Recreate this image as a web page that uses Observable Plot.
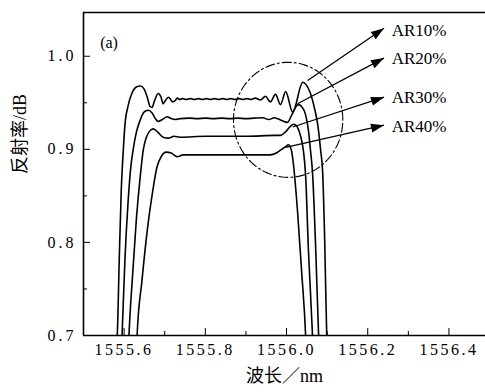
<!DOCTYPE html>
<html><head><meta charset="utf-8">
<script src="https://cdn.jsdelivr.net/npm/d3@7"></script>
<script src="https://cdn.jsdelivr.net/npm/@observablehq/plot@0.6"></script>
<style>
body{margin:0;background:#fff;}
#chart svg{display:block;}
#chart g[aria-label="x-axis tick label"] text{letter-spacing:2.5px;}
#chart g[aria-label="y-axis tick label"] text{letter-spacing:3px;}
</style></head><body><div id="chart"></div>
<script>
// axes
const xDomain = [1555.5, 1556.49];
const yDomain = [0.7, 1.047];
const xMajor = [1555.6, 1555.8, 1556.0, 1556.2, 1556.4];
const xMinor = [1555.7, 1555.9, 1556.1, 1556.3];
const yMajor = [0.7, 0.8, 0.9, 1.0];
const yMinor = [0.75, 0.85, 0.95];
const xLabel = "波长／nm";
const yLabel = "反射率/dB";
const panelLabel = "(a)";
const panelLabelPos = [1555.541, 1.014];

// series: [wavelength nm, reflectance]
const ar10 = [[1555.579,0.689],[1555.583,0.700],[1555.588,0.781],[1555.593,0.856],[1555.598,0.899],[1555.602,0.926],[1555.610,0.947],[1555.620,0.961],[1555.630,0.967],[1555.640,0.968],[1555.649,0.965],[1555.657,0.956],[1555.664,0.946],[1555.669,0.945],[1555.674,0.951],[1555.684,0.960],[1555.691,0.956],[1555.696,0.949],[1555.701,0.952],[1555.709,0.956],[1555.714,0.954],[1555.719,0.951],[1555.725,0.952],[1555.731,0.955],[1555.737,0.9535],[1555.743,0.9545],[1555.753,0.9535],[1555.763,0.9545],[1555.773,0.9535],[1555.783,0.9545],[1555.793,0.9535],[1555.803,0.9545],[1555.813,0.9535],[1555.823,0.9545],[1555.833,0.9535],[1555.843,0.9545],[1555.853,0.9535],[1555.863,0.9545],[1555.873,0.9535],[1555.883,0.9545],[1555.893,0.9535],[1555.903,0.9545],[1555.913,0.9535],[1555.923,0.955],[1555.936,0.953],[1555.948,0.957],[1555.960,0.951],[1555.973,0.959],[1555.985,0.948],[1555.998,0.962],[1556.015,0.940],[1556.040,0.972],[1556.049,0.969],[1556.059,0.960],[1556.069,0.944],[1556.077,0.926],[1556.084,0.899],[1556.089,0.875],[1556.094,0.802],[1556.099,0.700],[1556.100,0.689]];
const ar20 = [[1555.594,0.689],[1555.595,0.700],[1555.602,0.781],[1555.610,0.845],[1555.617,0.883],[1555.622,0.899],[1555.630,0.918],[1555.640,0.932],[1555.649,0.940],[1555.659,0.942],[1555.669,0.939],[1555.677,0.933],[1555.684,0.930],[1555.694,0.932],[1555.706,0.935],[1555.716,0.933],[1555.726,0.932],[1555.738,0.933],[1555.760,0.9335],[1555.780,0.933],[1555.800,0.9335],[1555.820,0.933],[1555.840,0.9335],[1555.860,0.933],[1555.880,0.9335],[1555.900,0.933],[1555.920,0.9335],[1555.941,0.934],[1555.956,0.932],[1555.970,0.934],[1555.988,0.931],[1556.002,0.929],[1556.015,0.939],[1556.025,0.947],[1556.030,0.948],[1556.037,0.946],[1556.047,0.937],[1556.054,0.920],[1556.059,0.899],[1556.064,0.875],[1556.072,0.791],[1556.079,0.700],[1556.080,0.689]];
const ar30 = [[1555.611,0.689],[1555.612,0.700],[1555.620,0.759],[1555.630,0.824],[1555.640,0.872],[1555.647,0.899],[1555.654,0.912],[1555.662,0.919],[1555.672,0.922],[1555.684,0.918],[1555.696,0.913],[1555.709,0.912],[1555.723,0.914],[1555.738,0.913],[1555.800,0.914],[1555.900,0.914],[1555.973,0.915],[1555.985,0.915],[1555.998,0.919],[1556.010,0.925],[1556.017,0.927],[1556.025,0.925],[1556.032,0.918],[1556.037,0.910],[1556.042,0.897],[1556.047,0.872],[1556.054,0.791],[1556.064,0.700],[1556.065,0.689]];
const ar40 = [[1555.631,0.689],[1555.632,0.700],[1555.644,0.759],[1555.657,0.813],[1555.669,0.851],[1555.681,0.881],[1555.691,0.892],[1555.704,0.897],[1555.716,0.896],[1555.731,0.892],[1555.746,0.894],[1555.763,0.894],[1555.850,0.894],[1555.960,0.894],[1555.975,0.896],[1555.988,0.900],[1555.998,0.903],[1556.005,0.905],[1556.012,0.899],[1556.017,0.884],[1556.027,0.834],[1556.037,0.770],[1556.047,0.700],[1556.048,0.689]];

// annotations
const seriesNames = ["AR10%", "AR20%", "AR30%", "AR40%"];
const arrowX1 = [1556.052, 1556.027, 1556.015, 1555.998];
const arrowY1 = [0.974, 0.949, 0.924, 0.902];
const arrowX2 = [1556.240, 1556.240, 1556.240, 1556.240];
const arrowY2 = [1.030, 0.998, 0.956, 0.926];
const labelX = 1556.259;
const labelY = [1.028, 0.997, 0.956, 0.924];
const ellipseCenter = [1556.004, 0.9317];
const ellipseRadii = [0.1346, 0.0618];

const serif = "'Liberation Serif', 'Noto Sans CJK SC', serif";
const series = [ar10, ar20, ar30, ar40];
const arrows = seriesNames.map((n, i) => ({x1: arrowX1[i], y1: arrowY1[i], x2: arrowX2[i], y2: arrowY2[i], label: n, ly: labelY[i]}));
const ellipse = d3.range(0, 361, 3).map(a => [
  ellipseCenter[0] + ellipseRadii[0] * Math.cos(a * Math.PI / 180),
  ellipseCenter[1] + ellipseRadii[1] * Math.sin(a * Math.PI / 180)
]);

function makePlot(extra) {
  return Plot.plot({
    width: 485, height: 392,
    marginLeft: 83, marginRight: 0, marginTop: 12, marginBottom: 57,
    x: {domain: xDomain},
    y: {domain: yDomain},
    style: {fontFamily: serif, fontSize: "16px", color: "black", background: "white"},
    marks: [
      ...series.map(s => Plot.line(s, {x: d => d[0], y: d => d[1], stroke: "black", strokeWidth: 1.6, curve: "monotone-x", clip: true})),
      Plot.line(ellipse, {x: d => d[0], y: d => d[1], stroke: "black", strokeWidth: 1.1, strokeDasharray: "9,3,2,3", curve: "linear"}),
      Plot.link(arrows, {x1: "x1", y1: "y1", x2: "x2", y2: "y2", stroke: "black", strokeWidth: 1.3}),
      ...extra,
      Plot.text(arrows, {x: () => labelX, y: "ly", text: "label", textAnchor: "start", fontSize: 17, fontFamily: serif, fill: "black"}),
      Plot.text([panelLabel], {x: () => panelLabelPos[0], y: () => panelLabelPos[1], text: d => d, textAnchor: "start", fontSize: 16, fontFamily: serif, fill: "black"}),
      Plot.axisX({ticks: xMajor, tickSize: -7, tickPadding: 15, tickFormat: d => d.toFixed(1), label: null, fontSize: 16, fontFamily: serif}),
      Plot.axisX({ticks: xMinor, tickSize: -4, tickFormat: () => "", label: null}),
      Plot.axisY({ticks: yMajor, tickSize: -7, tickPadding: 14, tickFormat: d => d.toFixed(1), label: null, fontSize: 16, fontFamily: serif}),
      Plot.axisY({ticks: yMinor, tickSize: -4, tickFormat: () => "", label: null}),
      Plot.ruleX([xDomain[0]], {stroke: "black", strokeWidth: 1.6}),
      Plot.ruleY(yDomain, {stroke: "black", strokeWidth: 1.6}),
      Plot.text([xLabel], {text: d => d, frameAnchor: "bottom", dy: 46, fontSize: 18, fontFamily: serif, fill: "black"}),
      Plot.text([yLabel], {text: d => d, frameAnchor: "left", dx: -63, rotate: -90, fontSize: 18, fontFamily: serif, fill: "black"})
    ]
  });
}

const draft = makePlot([]);
const sx = draft.scale("x"), sy = draft.scale("y");
const heads = arrows.map(a => {
  const dx = sx.apply(a.x2) - sx.apply(a.x1);
  const dy = sy.apply(a.y2) - sy.apply(a.y1);
  return {...a, angle: Math.atan2(dx, -dy) * 180 / Math.PI};
});
const headMark = Plot.vector(heads, {x: "x2", y: "y2", rotate: "angle", length: 13, r: 4.5, shape: "spike", anchor: "end", fill: "black", stroke: "none"});
document.getElementById("chart").append(makePlot([headMark]));
</script>
</body></html>
